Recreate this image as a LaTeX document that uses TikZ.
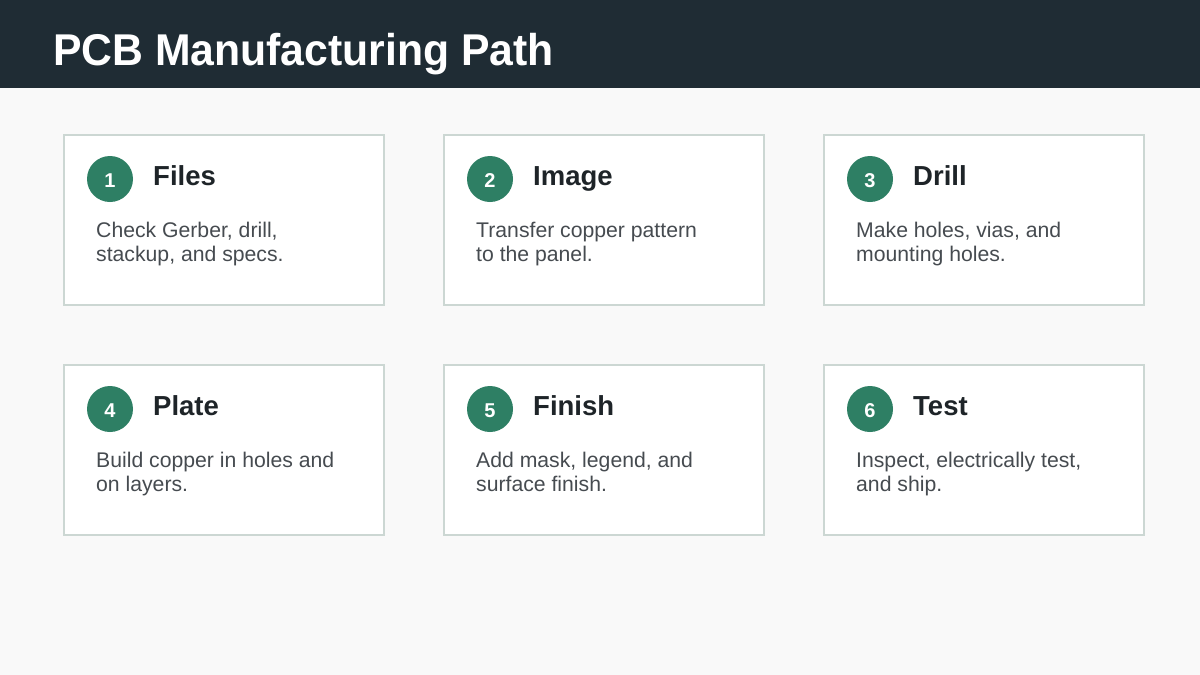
\documentclass[tikz,border=0pt]{standalone}
\usepackage{fontspec}
\setmainfont{Liberation Sans}
\definecolor{bg}{HTML}{F9F9F9}
\definecolor{hdr}{HTML}{1F2C34}
\definecolor{cardline}{HTML}{CCD7D3}
\definecolor{badge}{HTML}{2E7F64}
\definecolor{ttl}{HTML}{1E2428}
\definecolor{body}{HTML}{464B50}
\begin{document}
\begin{tikzpicture}[x=1pt,y=-1pt,
  card/.style={draw=cardline,line width=1.6pt,fill=white},
  badgec/.style={circle,fill=badge,minimum size=46pt,inner sep=0pt},
  bnum/.style={anchor=base,inner sep=0pt,text=white,font=\bfseries\fontsize{20}{20}\selectfont},
  ctitle/.style={anchor=base west,inner sep=0pt,text=ttl,font=\bfseries\fontsize{27.5}{27.5}\selectfont},
  cbody/.style={anchor=base west,inner sep=0pt,text=body,align=left,font=\fontsize{21.2}{24.5}\selectfont}]
\useasboundingbox (0,0) rectangle (1200,675);
\fill[bg] (0,0) rectangle (1200,675);
\fill[hdr] (0,0) rectangle (1200,88);
\node[anchor=base west,inner sep=0pt,text=white,xscale=0.96,font=\bfseries\fontsize{44.5}{44.5}\selectfont] (title) at (53,65.5) {PCB Manufacturing Path};
\foreach \i/\x/\y/\t/\a/\b in {
  1/64/135/Files/{Check Gerber, drill,}/{stackup, and specs.},
  2/444/135/Image/{Transfer copper pattern}/{to the panel.},
  3/824/135/Drill/{Make holes, vias, and}/{mounting holes.},
  4/64/365/Plate/{Build copper in holes and}/{on layers.},
  5/444/365/Finish/{Add mask, legend, and}/{surface finish.},
  6/824/365/Test/{Inspect, electrically test,}/{and ship.}}{
  \draw[card] (\x,\y) rectangle ++(320,170);
  \node[badgec] (b\i) at (\x+46,\y+44) {};
  \node[bnum] (n\i) at (\x+46,\y+52.5) {\i};
  \node[ctitle] (t\i) at (\x+89,\y+50) {\t};
  \node[cbody] (d\i) at (\x+32,\y+126.5) {\a\\\b};
}
\end{tikzpicture}
\end{document}
